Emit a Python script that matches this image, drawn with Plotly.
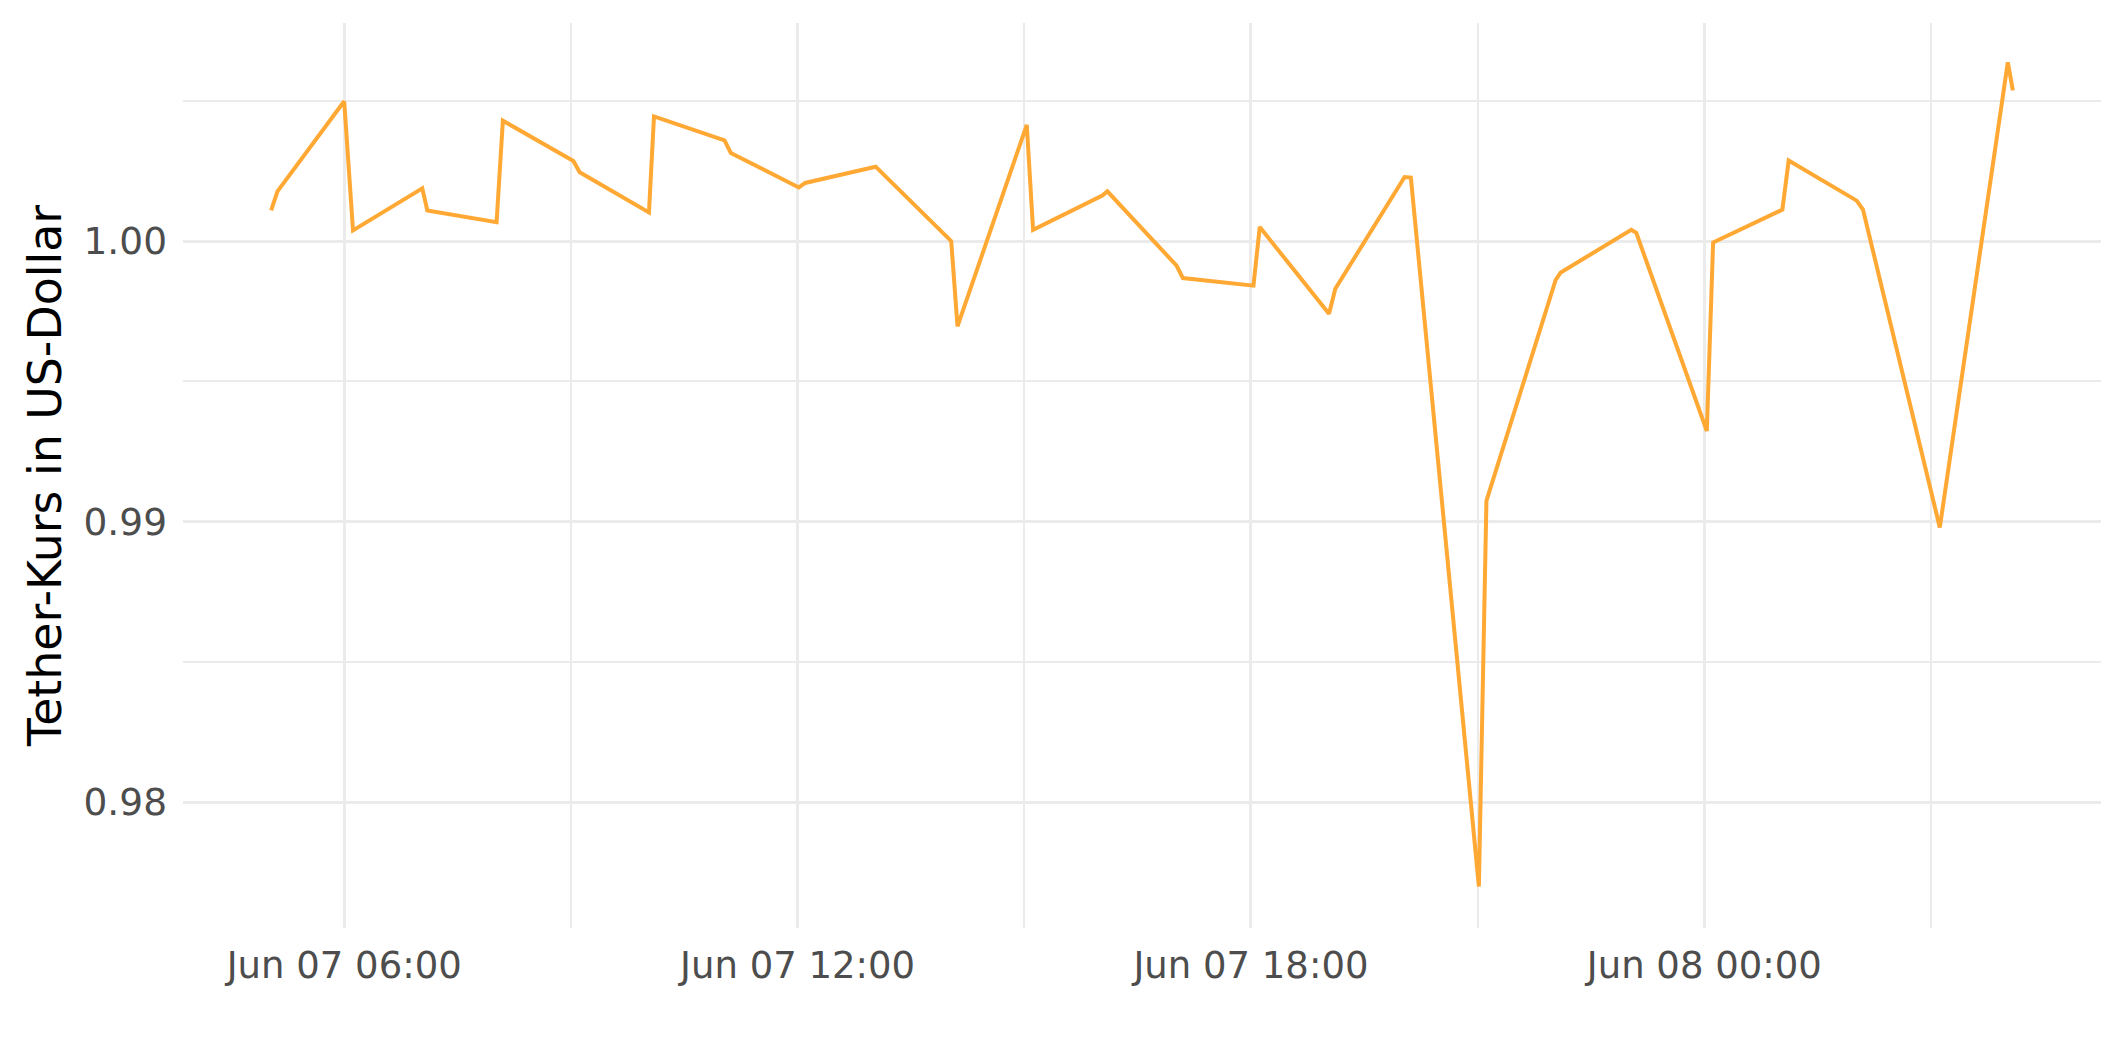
import plotly.graph_objects as go

# Timestamps (minute resolution) and Tether price in USD
times = [
    "2023-06-07 05:02", "2023-06-07 05:07", "2023-06-07 06:00", "2023-06-07 06:07",
    "2023-06-07 07:02", "2023-06-07 07:06", "2023-06-07 08:01", "2023-06-07 08:06",
    "2023-06-07 09:02", "2023-06-07 09:07", "2023-06-07 10:02", "2023-06-07 10:06",
    "2023-06-07 11:02", "2023-06-07 11:07", "2023-06-07 12:01", "2023-06-07 12:06",
    "2023-06-07 13:02", "2023-06-07 14:02", "2023-06-07 14:07", "2023-06-07 15:02",
    "2023-06-07 15:07", "2023-06-07 16:02", "2023-06-07 16:06", "2023-06-07 17:01",
    "2023-06-07 17:06", "2023-06-07 18:02", "2023-06-07 18:07", "2023-06-07 19:02",
    "2023-06-07 19:07", "2023-06-07 20:02", "2023-06-07 20:07", "2023-06-07 21:01",
    "2023-06-07 21:07", "2023-06-07 22:02", "2023-06-07 22:06", "2023-06-07 23:02",
    "2023-06-07 23:06", "2023-06-08 00:02", "2023-06-08 00:07", "2023-06-08 01:02",
    "2023-06-08 01:07", "2023-06-08 02:01", "2023-06-08 02:06", "2023-06-08 03:07",
    "2023-06-08 04:01", "2023-06-08 04:05",
]
prices = [
    1.00109, 1.00177, 1.00498, 1.00038,
    1.00188, 1.00109, 1.00067, 1.00429,
    1.00285, 1.00245, 1.00102, 1.00444,
    1.00359, 1.00314, 1.00191, 1.00207,
    1.00265, 1.00000, 0.99696, 1.00414,
    1.00040, 1.00162, 1.00177, 0.99912,
    0.99868, 0.99841, 1.00050, 0.99741,
    0.99830, 1.00228, 1.00226, 0.97700,
    0.99074, 0.99862, 0.99888, 1.00040,
    1.00029, 0.99323, 0.99995, 1.00112,
    1.00287, 1.00144, 1.00112, 0.98979,
    1.00637, 1.00537,
]

y_tickvals = [0.98, 0.99, 1.00]
y_ticktext = ["0.98", "0.99", "1.00"]
y_title = "Tether-Kurs in US-Dollar"

LINE_COLOR = "#FFA833"
GRID = "#EBEBEB"
FONT = "DejaVu Sans"

fig = go.Figure()
fig.add_trace(go.Scatter(
    x=times, y=prices, mode="lines",
    line=dict(color=LINE_COLOR, width=4),
    hoverinfo="x+y", showlegend=False,
))

# the page body adds an 8px offset, so margins are compensated
fig.update_layout(
    width=2125, height=1062,
    margin=dict(l=175, r=32, t=15, b=142, autoexpand=False),
    paper_bgcolor="white", plot_bgcolor="white",
    font=dict(family=FONT, color="#4D4D4D"),
)

fig.update_xaxes(
    type="date", automargin=False,
    range=["2023-06-07 03:52", "2023-06-08 05:15"],
    tick0="2023-06-07 00:00", dtick=6 * 3600 * 1000,
    tickformat="%b %d %H:%M",
    tickfont=dict(size=37, color="#4D4D4D", family=FONT),
    showgrid=True, gridcolor=GRID, gridwidth=3.2,
    minor=dict(dtick=3 * 3600 * 1000, tick0="2023-06-07 00:00",
               showgrid=True, gridcolor=GRID, gridwidth=1.7),
    zeroline=False, showline=False, ticks="", ticklabelstandoff=12,
)

fig.update_yaxes(
    automargin=False,
    range=[0.97552, 1.00777],
    tickvals=y_tickvals, ticktext=y_ticktext,
    tickfont=dict(size=37.5, color="#4D4D4D", family=FONT),
    showgrid=True, gridcolor=GRID, gridwidth=3.2,
    minor=dict(dtick=0.005, tick0=0.975, showgrid=True, gridcolor=GRID, gridwidth=1.7),
    zeroline=False, showline=False, ticks="", ticklabelstandoff=15,
    title=dict(text=y_title, font=dict(size=45.8, color="black", family=FONT), standoff=7),
)

fig.write_html("out.html")
